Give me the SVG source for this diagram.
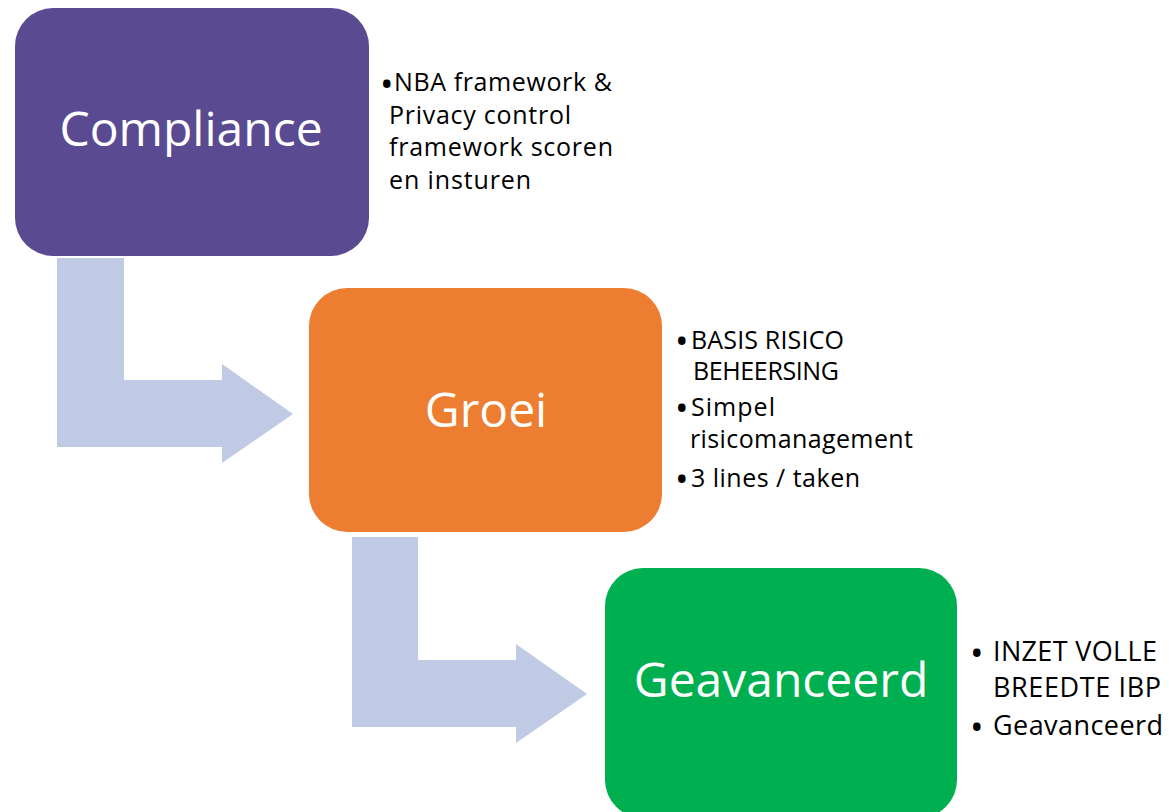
<svg xmlns="http://www.w3.org/2000/svg" width="1169" height="812" viewBox="0 0 1169 812">
<style>
.box-title{font-family:"Open Sans","Liberation Sans",sans-serif;font-size:48px;fill:#ffffff;text-anchor:middle}
.bul{font-family:"Open Sans","Liberation Sans",sans-serif;font-size:25px;fill:#000000}
.bul3{font-family:"Open Sans","Liberation Sans",sans-serif;font-size:27px;fill:#000000}
.dot{font-family:"Open Sans","Liberation Sans",sans-serif;font-size:36px;fill:#000000}
.arrow{fill:#C0CAE4}
</style>
<rect width="1169" height="812" fill="#ffffff"/>
<g id="connectors">
<path class="arrow" d="M57,258 L124,258 L124,380 L222,380 L222,364 L293,414 L222,463 L222,447 L57,447 Z"/>
<path class="arrow" d="M352,537 L418,537 L418,660 L516,660 L516,644 L587,694 L516,743 L516,727 L352,727 Z"/>
</g>
<g id="node-compliance">
<rect x="15" y="8" width="354" height="248" rx="38" ry="38" fill="#594A92"/>
<text class="box-title" x="191" y="146">Compliance</text>
</g>
<g id="notes-compliance">
<text class="dot" x="380" y="97">•</text>
<text class="bul" x="394" y="91" textLength="218" lengthAdjust="spacing">NBA framework &amp;</text>
<text class="bul" x="389" y="123.5" textLength="182" lengthAdjust="spacing">Privacy control</text>
<text class="bul" x="389" y="156" textLength="224" lengthAdjust="spacing">framework scoren</text>
<text class="bul" x="389" y="188.5" textLength="142" lengthAdjust="spacing">en insturen</text>
</g>
<g id="node-groei">
<rect x="309" y="288" width="353" height="244" rx="38" ry="38" fill="#ED7D31"/>
<text class="box-title" x="486" y="427">Groei</text>
</g>
<g id="notes-groei">
<text class="dot" x="675" y="354">•</text>
<text class="bul" x="691" y="349" textLength="153" lengthAdjust="spacing">BASIS RISICO</text>
<text class="bul" x="693" y="380" textLength="146" lengthAdjust="spacing">BEHEERSING</text>
<text class="dot" x="675" y="421">•</text>
<text class="bul" x="691" y="416" textLength="84" lengthAdjust="spacing">Simpel</text>
<text class="bul" x="690" y="448" textLength="223" lengthAdjust="spacing">risicomanagement</text>
<text class="dot" x="675" y="492">•</text>
<text class="bul" x="691" y="487" textLength="169" lengthAdjust="spacing">3 lines / taken</text>
</g>
<g id="node-geavanceerd">
<rect x="605" y="568" width="352" height="250" rx="38" ry="38" fill="#00B050"/>
<text class="box-title" x="781" y="697">Geavanceerd</text>
</g>
<g id="notes-geavanceerd">
<text class="dot" x="970" y="666">•</text>
<text class="bul3" x="993" y="661" textLength="164" lengthAdjust="spacing">INZET VOLLE</text>
<text class="bul3" x="993" y="697" textLength="168" lengthAdjust="spacing">BREEDTE IBP</text>
<text class="dot" x="970" y="740">•</text>
<text class="bul3" x="993" y="735" textLength="170" lengthAdjust="spacing">Geavanceerd</text>
</g>
</svg>
